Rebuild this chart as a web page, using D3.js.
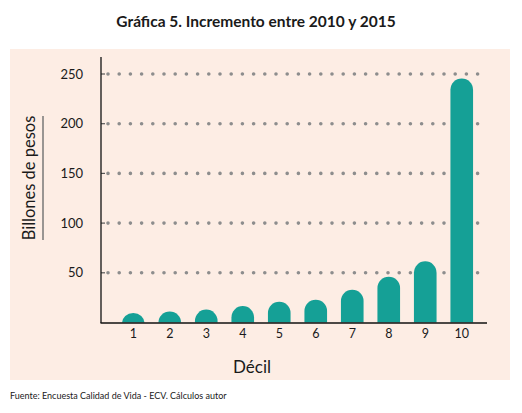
<!DOCTYPE html>
<html>
<head>
<meta charset="utf-8">
<script src="https://cdn.jsdelivr.net/npm/d3@7"></script>
<style>
  body { margin: 0; background: #fff; }
  text { font-family: Lato, "Open Sans", sans-serif; fill: #1a1a1a; }
</style>
</head>
<body>
<div id="root"></div>
<script>
// deciles y valores (billones de pesos)
var deciles = ["1", "2", "3", "4", "5", "6", "7", "8", "9", "10"]
var valores = [9.5, 11, 13, 16.5, 21, 23, 33, 46, 61.5, 245.5]
var yTicks = [50, 100, 150, 200, 250]

var width = 522, height = 413
var svg = d3.select("#root").append("svg")
    .attr("width", width)
    .attr("height", height)

// fondo del panel
svg.append("rect")
    .attr("x", 10).attr("y", 49)
    .attr("width", 500).attr("height", 331)
    .attr("fill", "#fdede4")

svg.append("text")
    .attr("x", 256).attr("y", 27)
    .attr("text-anchor", "middle")
    .style("font-size", "15.5px")
    .style("font-weight", "bold")
    .text("Gráfica 5. Incremento entre 2010 y 2015")

var x = d3.scaleBand()
    .domain(deciles)
    .range([115, 480])
    .paddingInner(0.38)
    .paddingOuter(0.19)

var y = d3.scaleLinear()
    .domain([0, 250])
    .range([322.5, 74])

// lineas punteadas
var grid = svg.append("g")
grid.selectAll("line.dots")
    .data(yTicks)
    .enter()
    .append("line")
    .attr("x1", 108).attr("x2", 484)
    .attr("y1", function (d) { return y(d) })
    .attr("y2", function (d) { return y(d) })
    .attr("stroke", "#8d8d8d")
    .attr("stroke-width", 3.6)
    .attr("stroke-linecap", "round")
    .attr("stroke-dasharray", "0 11.2")
grid.selectAll("line.tick")
    .data(yTicks)
    .enter()
    .append("line")
    .attr("x1", 101).attr("x2", 105)
    .attr("y1", function (d) { return y(d) })
    .attr("y2", function (d) { return y(d) })
    .attr("stroke", "#555")
    .attr("stroke-width", 1.2)

svg.selectAll("text.ytick")
    .data(yTicks)
    .enter()
    .append("text")
    .attr("x", 83)
    .attr("y", function (d) { return y(d) + 4.5 })
    .attr("text-anchor", "end")
    .style("font-size", "13px")
    .text(function (d) { return d })

// barras con tope redondeado, recortadas en la base
svg.append("clipPath").attr("id", "base")
    .append("rect")
    .attr("x", 0).attr("y", 0)
    .attr("width", width).attr("height", y(0))

var r = x.bandwidth() / 2
svg.append("g")
    .attr("clip-path", "url(#base)")
    .selectAll("rect")
    .data(valores)
    .enter()
    .append("rect")
    .attr("x", function (d, i) { return x(deciles[i]) })
    .attr("y", function (d) { return y(d) })
    .attr("width", x.bandwidth())
    .attr("height", function (d) { return y(0) - y(d) + r })
    .attr("rx", r).attr("ry", r)
    .attr("fill", "#15a096")

// ejes
svg.append("line")
    .attr("x1", 101).attr("x2", 101)
    .attr("y1", 57).attr("y2", y(0) + 0.5)
    .attr("stroke", "#111").attr("stroke-width", 1.3)
svg.append("line")
    .attr("x1", 100.5).attr("x2", 487)
    .attr("y1", y(0) + 0.5).attr("y2", y(0) + 0.5)
    .attr("stroke", "#111").attr("stroke-width", 1.3)

svg.selectAll("text.xtick")
    .data(deciles)
    .enter()
    .append("text")
    .attr("x", function (d) { return x(d) + x.bandwidth() / 2 })
    .attr("y", 337.5)
    .attr("text-anchor", "middle")
    .style("font-size", "12.5px")
    .text(function (d) { return d })

svg.append("text")
    .attr("x", 252).attr("y", 373)
    .attr("text-anchor", "middle")
    .style("font-size", "17px")
    .text("Décil")

svg.append("text")
    .attr("transform", "translate(35,178) rotate(-90)")
    .attr("text-anchor", "middle")
    .style("font-size", "16.5px")
    .text("Billones de pesos")
svg.append("line")
    .attr("x1", 43).attr("x2", 43)
    .attr("y1", 116).attr("y2", 240)
    .attr("stroke", "#777").attr("stroke-width", 1.5)

svg.append("text")
    .attr("x", 10).attr("y", 399)
    .style("font-size", "9px")
    .text("Fuente: Encuesta Calidad de Vida - ECV. Cálculos autor")
</script>
</body>
</html>
